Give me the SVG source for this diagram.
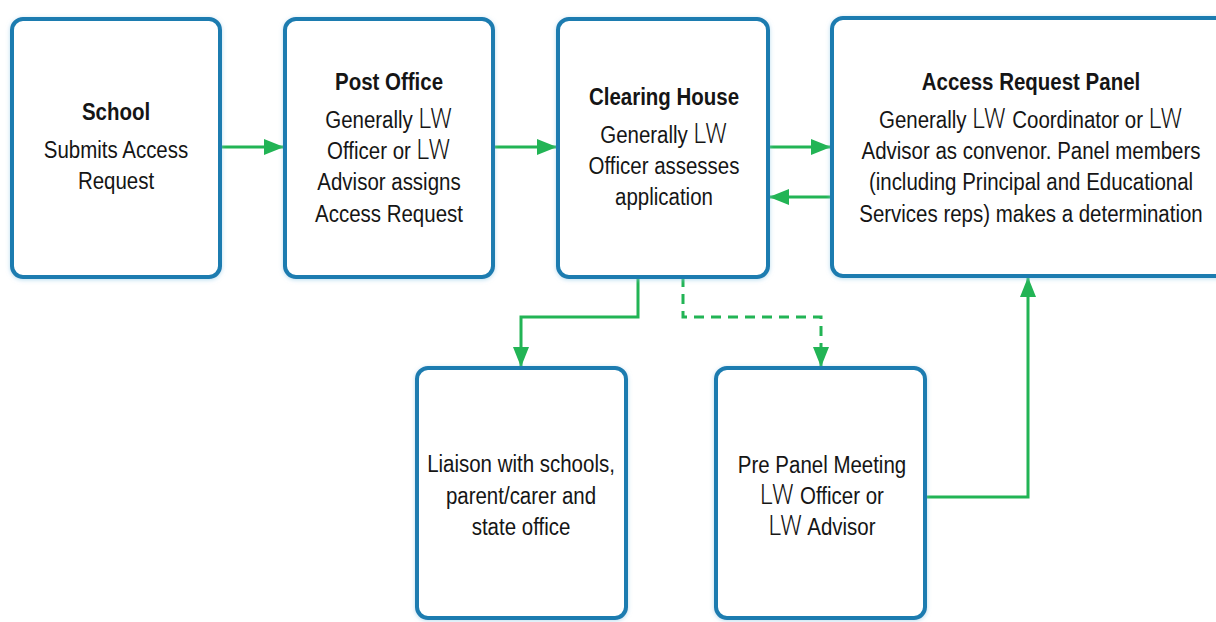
<svg xmlns="http://www.w3.org/2000/svg" width="1216" height="622" viewBox="0 0 1216 622">
<defs>
<style>
.box{fill:#ffffff;stroke:#1a7bb0;stroke-width:4;filter:url(#glow)}
.t{font-family:"Liberation Sans",Arial,sans-serif;font-size:23px;fill:#151515;text-anchor:middle}
.b{font-weight:bold}
.lw{font-family:Roboto,"Liberation Sans",sans-serif;font-weight:300;font-size:27px;letter-spacing:1px}
.c{fill:none;stroke:#22b455;stroke-width:3}
.d{stroke-dasharray:10 7}
</style>
<filter id="glow" x="-10%" y="-10%" width="120%" height="120%">
<feDropShadow dx="0" dy="1" stdDeviation="2" flood-color="#8cc8e6" flood-opacity="0.6"/>
</filter>
<marker id="ah" viewBox="0 0 20 16" refX="20" refY="8" markerWidth="20" markerHeight="16" markerUnits="userSpaceOnUse" orient="auto">
<path d="M0,0 L20,8 L0,16 z" fill="#22b455" stroke="none"/>
</marker>
</defs>
<rect width="1216" height="622" fill="#ffffff"/>

<g id="connectors">
<path class="c" d="M220,147 H284" marker-end="url(#ah)"/>
<path class="c" d="M493,147 H557" marker-end="url(#ah)"/>
<path class="c" d="M768,147 H831" marker-end="url(#ah)"/>
<path class="c" d="M832,197 H769" marker-end="url(#ah)"/>
<path class="c" d="M638,277 V317 H521 V367" marker-end="url(#ah)"/>
<path class="c d" d="M683,277 V317 H821 V367" marker-end="url(#ah)"/>
<path class="c" d="M925,497 H1028 V277" marker-end="url(#ah)"/>
</g>

<g id="school">
<rect class="box" x="12" y="19" width="208" height="258" rx="11"/>
<g transform="translate(116 0) scale(0.89 1)">
<text class="t b" x="0" y="120">School</text>
<text class="t" x="0" y="158">Submits Access</text>
<text class="t" x="0" y="189">Request</text>
</g>
</g>

<g id="post-office">
<rect class="box" x="285" y="19" width="208" height="258" rx="11"/>
<g transform="translate(389 0) scale(0.89 1)">
<text class="t b" x="0" y="90">Post Office</text>
<text class="t" x="0" y="128">Generally <tspan class="lw">LW</tspan></text>
<text class="t" x="0" y="159">Officer or <tspan class="lw">LW</tspan></text>
<text class="t" x="0" y="190">Advisor assigns</text>
<text class="t" x="0" y="222">Access Request</text>
</g>
</g>

<g id="clearing-house">
<rect class="box" x="558" y="19" width="210" height="258" rx="11"/>
<g transform="translate(664 0) scale(0.89 1)">
<text class="t b" x="0" y="105">Clearing House</text>
<text class="t" x="0" y="143">Generally <tspan class="lw">LW</tspan></text>
<text class="t" x="0" y="174">Officer assesses</text>
<text class="t" x="0" y="205">application</text>
</g>
</g>

<g id="access-request-panel">
<rect class="box" x="832" y="18" width="400" height="258" rx="11"/>
<g transform="translate(1031 0) scale(0.89 1)">
<text class="t b" x="0" y="90">Access Request Panel</text>
<text class="t" x="0" y="128">Generally <tspan class="lw">LW</tspan> Coordinator or <tspan class="lw">LW</tspan></text>
<text class="t" x="0" y="159">Advisor as convenor. Panel members</text>
<text class="t" x="0" y="190">(including Principal and Educational</text>
<text class="t" x="0" y="222">Services reps) makes a determination</text>
</g>
</g>

<g id="liaison">
<rect class="box" x="417" y="368" width="209" height="250" rx="11"/>
<g transform="translate(521 0) scale(0.89 1)">
<text class="t" x="0" y="472">Liaison with schools,</text>
<text class="t" x="0" y="504">parent/carer and</text>
<text class="t" x="0" y="535">state office</text>
</g>
</g>

<g id="pre-panel">
<rect class="box" x="716" y="368" width="209" height="250" rx="11"/>
<g transform="translate(822 0) scale(0.89 1)">
<text class="t" x="0" y="473">Pre Panel Meeting</text>
<text class="t" x="0" y="504"><tspan class="lw">LW</tspan> Officer or</text>
<text class="t" x="0" y="535"><tspan class="lw">LW</tspan> Advisor</text>
</g>
</g>
</svg>
